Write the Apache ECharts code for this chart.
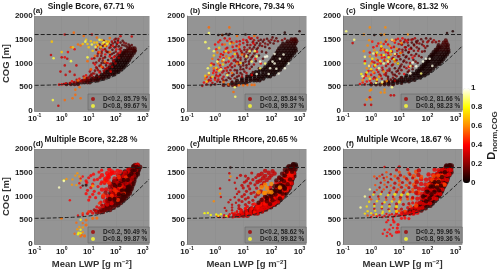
<!DOCTYPE html>
<html><head><meta charset="utf-8">
<style>html,body{margin:0;padding:0;background:#fff}#c{width:500px;height:273px}</style>
<script src="https://cdn.jsdelivr.net/npm/echarts@6/dist/echarts.min.js"></script>
</head><body><div id="c"></div>
<script>
// Dense core of each cloud. Row: [COG, D, [LWP values]]
const coreA = [[565,.1,[1.5,2.2,3,4]],[600,.1,[4,5.5,7,9,11]],[640,.08,[8,11,14,18,22]],[680,.06,[13,18,23,29,36]],[720,.05,[20,27,35,44,55]],[770,.05,[30,38,50,62,78,90]],[820,.04,[40,50,65,85,105,125]],[870,.04,[50,65,85,105,130,160]],[920,.03,[60,80,100,130,165,200]],[970,.03,[75,95,120,150,190,235]],[1020,.03,[85,110,135,175,220,270]],[1070,.04,[100,125,160,205,255,310]],[1120,.05,[120,145,180,235,290,350]],[1170,.06,[140,170,205,265,330,400]],[1220,.06,[170,200,235,300,380,470]],[1270,.08,[210,250,290,380,480,520]],[1320,.1,[290,340,420,500]]];
const coreB = [[550,.12,[2,3,4.2,5.5]],[590,.06,[4,5.5,7.5,10,13]],[640,.05,[6,9,13,18,24,30,38]],[680,.04,[9,13,18,25,33,42,52]],[725,.03,[14,18,25,35,46,60,75,90]],[770,.03,[20,26,36,50,65,85,105,125]],[820,.03,[28,35,50,68,88,112,140,165]],[870,.03,[40,50,62,82,106,135,170,205]],[920,.03,[60,75,98,128,165,205,245]],[970,.03,[75,90,115,150,195,245,290]],[1020,.03,[85,105,135,175,225,285,340]],[1070,.03,[100,125,160,205,265,335,400]],[1120,.03,[115,140,185,240,310,390,470]],[1170,.03,[130,160,215,280,360,455,550]],[1220,.03,[150,190,250,325,420,530,650]],[1270,.04,[170,220,290,380,490,620,750]],[1320,.04,[190,260,340,440,570,720]],[1370,.05,[225,300,395,510,650]],[1420,.06,[260,350,460,590,720]],[1470,.08,[380,500,650,780]],[1510,.1,[520,640,720]]];
const coreC = [[560,.08,[1,1.5,2.1,3,4.2,6]],[590,.06,[3,4.3,6,8.5,12]],[620,.05,[4,6,8.5,12,16,22]],[655,.04,[7,10,14,20,27,35]],[700,.03,[12,17,24,33,44,56]],[745,.03,[18,26,35,47,62,80]],[790,.03,[30,38,46,62,82,105]],[840,.03,[42,50,58,78,102,130]],[890,.03,[52,64,72,96,125,160]],[940,.03,[62,74,86,115,150,195]],[990,.03,[74,88,102,135,180,230,270]],[1040,.03,[88,105,120,160,210,270,320]],[1090,.03,[102,120,140,185,245,310,370]],[1140,.03,[120,140,165,220,285,360,430]],[1190,.04,[140,160,190,255,330,420,500]],[1240,.04,[165,195,225,300,385,490,570]],[1290,.06,[195,225,265,350,450,560]],[1340,.07,[235,270,315,420,530]],[1390,.08,[250,340,450,540]],[1440,.1,[380,480]],[1490,.12,[450]]];
const coreD = [[680,.2,[20,26,33]],[720,.15,[30,38,48,60]],[770,.15,[40,48,62,82]],[820,.12,[45,55,75,100,120]],[870,.12,[52,72,95,125,150]],[920,.1,[50,72,98,130,165,190]],[970,.1,[62,86,115,150,195,230]],[1020,.1,[70,98,130,170,220,270]],[1070,.1,[65,90,125,165,215,270,320]],[1120,.1,[85,120,160,210,265,340]],[1170,.1,[85,120,160,210,275,340,380]],[1220,.1,[75,110,150,200,260,330,400]],[1270,.1,[80,110,150,200,260,340,400,440]],[1320,.1,[90,130,175,230,300,380,470]],[1370,.1,[120,170,230,300,390,480]],[1420,.1,[140,190,250,330,430,540]],[1470,.08,[190,260,340,440,560,640]],[1520,.1,[220,300,400,520,650]],[1570,.08,[320,430,560,700]],[1620,.12,[460,600,780]],[1660,.12,[520,640]]];
const coreE = [[600,.25,[5,7,10,14]],[650,.2,[9,13,18,25,32]],[690,.18,[13,18,25,34,46]],[730,.15,[18,26,36,48,64]],[780,.12,[30,42,58,75,95]],[830,.1,[45,62,82,105,130]],[880,.1,[58,78,105,135,170]],[930,.08,[72,98,130,165,205]],[980,.08,[86,115,150,190,240]],[1030,.08,[105,140,185,235,290]],[1080,.08,[125,165,215,275,340]],[1130,.08,[145,195,250,320,390]],[1180,.08,[160,215,280,360,440]],[1230,.08,[185,250,320,400,470]],[1280,.1,[205,270,350,440,520]],[1330,.08,[250,330,420,520]],[1380,.1,[260,340,440,560]],[1430,.1,[340,440,560,640]],[1480,.1,[380,500,630]],[1530,.1,[370,490,630]],[1580,.12,[470,600,700]],[1630,.1,[500,620,740]],[1670,.05,[600,720]]];
const coreF = [[660,.25,[15,22,30]],[710,.15,[24,32,44,60]],[760,.12,[36,50,66,85]],[810,.1,[46,60,78,100,125]],[860,.08,[56,74,95,125,150]],[910,.08,[68,88,115,145,180]],[960,.07,[80,105,135,170,210]],[1010,.06,[78,102,132,170,215,255]],[1060,.06,[85,110,145,185,230,285]],[1110,.06,[95,125,165,210,265,320]],[1160,.06,[95,130,170,220,275,340]],[1210,.06,[115,150,200,255,320,380]],[1260,.08,[120,165,215,280,350,420]],[1310,.08,[145,195,255,330,410,470]],[1360,.08,[175,230,300,390,500]],[1410,.1,[195,260,340,440,530]],[1460,.1,[220,290,380,490,600]],[1510,.1,[280,370,480,600,700]],[1560,.1,[340,450,580,680]],[1610,.15,[450,570,700]],[1650,.1,[480,620,720]]];
// Loose marks laid on top. Group: [D, [LWP,COG, LWP,COG, ...]]
const looseA = [
[.18,[14,790,17,850,20,900,25,950,19,1020,26,1100,22,1210,29,1160,33,1060,37,1010,41,880,55,930,67,1000,80,1070,92,1150,72,1200,55,1240,40,1300,33,1370,52,1450,63,1340,78,1420,105,1360,140,1300,120,1210,100,1250,160,1330,200,1440,240,1420,24,720,12,770,9,700,6,650,45,1010,30,1250,16,1110,19,1290,25,1400,36,1480]],
[.15,[1.2,570,2,575,2.8,600,4,610,5.5,640,7,645,8,690,10,660,11,730,15,710]],
[.12,[20,760,26,830,18,700,34,905,30,1010,44,960,52,1075,40,1130,62,1180,48,1240,75,1290,90,1340,66,1390,110,1410,130,1360,150,1440,175,1390,210,1380,120,1480,95,1450,84,1220,70,1110,58,870,38,800,14,680,9,640,100,1520,180,1480,250,1360,300,1400,330,1370,390,1390]],
[.25,[2,590,3,610,5,630,3.6,655,7,670,10,700,6.5,725,13,745,16,790,11,830,22,860,19,920,28,960,15,1010,24,1060,34,1110,21,1160,30,1210,44,1260,27,1320,58,1330,38,1400,72,1460,54,1430,90,1500,125,1520,155,1270,110,1180,85,1050,60,990,47,900,36,845,74,930,130,1120,98,1000]],
[.38,[1,560,1.4,580,.8,555,2.4,625,4.5,680,8,750,12,875,17,980,13,1100,23,1240,33,1290,41,1190,50,1010,33,920,25,810,60,1150,78,1370,105,1300,140,1230,65,830,120,1440,85,1130,44,1370,20,1360,1.3,1130,1.7,1240,3,1300]],
[.3,[.4,1180,1,1130,13,1610,150,1575,390,1570,1.3,1610,.75,110,1.6,1100,3.5,960,1.3,960,.9,830,2,830,1.4,760,3,760]],
[.55,[2.8,1650,6.5,1580,20,1545,60,1535,2.2,1340,4,1400,5,1380,9,1050,12,880,30,930,40,1040,17,1160,25,1240,60,1240,7,700,4,640,3.2,450,3.2,340,2.5,270,5,270,4.6,500,1.3,230]],
[.7,[8,1500,30,1495,45,1470,12,1470,20,1440,55,1460,9,1410,16,1440,33,1420,47,1400,6,1410,22,1385,40,1370,10,1340,28,1340,1,1240,2.6,1340,14,1270,.43,1460]],
[.85,[13,1400,18,1350,36,1450,50,1420,25,1500,7.5,1460,.5,1110,2.2,1050,9,1130,.47,230]]];
const looseB = [
[.18,[2,640,3.5,680,5,690,7,740,4,740,9,770,6,800,11,830,8,880,13,910,10,960,16,990,12,1040,18,1080,14,1130,22,1160,17,1220,27,1250,21,1300,33,1330,26,1390,40,1420,35,1480,55,1500,80,1480,60,1420,47,1370,75,1400,100,1500,130,1480,170,1470,240,1490,300,1520,3,800,5,860,4,920,7,980,5.5,1040,8,1080,6.5,1130,11,1150,9,1220,13,1240,11,1290,17,1330,14,1390,22,1450,18,1520]],
[.3,[1.3,660,2,720,2.6,850,1.6,900,3.4,960,2.4,1020,4.6,1060,3.5,1120,6,1210,4.6,1280,7.5,1300,5.8,1370,10,1430,7.5,1470,13,1490,20,1530,1.8,810,1.1,750,.7,700,.9,980,1.3,1080,1.9,1180,2.7,1330,3.8,1450,2.2,1530]],
[.42,[.55,620,1,660,.5,720,.85,800,1.2,880,.75,1000,1.5,1140,2.1,1240,1.1,1300,1.8,1400,1.3,1450,2.7,1480]],
[.12,[1.5,610,2.5,650,4,620,3,700,6,720,4.5,770,8,800,6,850,10,880,8,930,13,960,10,1010,16,1040,12,1090,20,1130,15,1180,25,1210,18,1270,30,1300,24,1340,38,1380,30,1430,50,1460,42,1500,70,1520,110,1550,1,560,.7,545,13,740,22,820,20,930,28,1050,36,1170,46,1250,60,1350,90,1440,150,1530,36,900,50,1100,65,1230,85,1320,120,1420]],
[.25,[.35,530,.5,560,.8,590,1.2,620,.6,650,1,700,1.8,680,1.5,760,2.6,780,2,840,3.5,860,2.8,920,5,950,3.8,1000,6.5,1030,5,1080,8,1120,6.5,1170,11,1200,8.5,1260,14,1290,11,1340,18,1390,14,1450,24,1490,32,1540,9,720,13,800,17,890,24,980]],
[.38,[.4,600,.7,640,1.3,730,1.1,810,2.3,900,1.5,960,3,1040,2,1110,4.2,1150,3,1230,5.5,1280,4.2,1350,7.5,1400,5.8,1460,10,1500,16,1550,23,1420,31,1250,27,1100,42,1000,20,760,.9,850,1.6,1200,2.4,1310,1,1400,1.5,1490,3.3,1520]],
[.55,[.45,680,.6,770,.9,900,1.3,1000,.8,1100,1.8,1050,2.5,1150,1.2,1230,3.6,1250,2.2,1400,4.5,1430,7,1350,9,1190,6,1000,4,800,2,610,3,560,25,550,20,550,10,540,14,545,7,540,1.8,1600,6,1580,25,1580,3.2,1760,.6,1760,4.5,400]],
[.72,[.5,620,.8,720,.45,740,1.4,850,.7,960,1.1,910,1.9,980,3.2,1110,.9,1170,2.4,1260,1.4,1330,3.4,1420,5,1200,8,1010]],
[.88,[.6,800,.55,900,1.2,1040,2,1080,.9,1260,.6,1320,.45,1450,.6,1640,1.6,880,2.7,760,5,500,5.2,300,17,1260,26,1260,13,1150,30,1150,20,1040,40,900,60,1000]],
[.98,[130,1000,200,1100,70,1150,110,1040,90,900,150,890,300,900,30,780,80,780,180,790,130,1200,270,1190,60,1140,40,1040,400,1000]],
[.05,[300,1650,1000,1680,2.5,1620,3.3,1620,12,1610,1.3,1600,1.8,1600,3,1600]]];
const looseC = [
[.18,[4,680,6,700,8,730,6,770,10,790,8,830,12,860,10,900,15,930,12,980,18,1020,15,1060,22,1100,18,1150,27,1180,22,1240,33,1270,27,1310,42,1340,34,1380,52,1420,42,1430,70,1460,110,1480,150,1450,200,1450,260,1470,85,1330,65,1250,50,1160,38,1040,30,940,22,850,17,1340,13,1290,11,1220,9,1150,7,1060,5.5,960,4.5,850,3.4,750,12,1400,15,1450,21,1500,30,1510]],
[.3,[1.5,680,2.2,740,3,770,1.8,820,3.8,850,2.5,910,4,990,3,1060,5.5,1100,4.2,1170,7,1180,5.5,1250,8.5,1270,6.5,1350,9.5,1410,7.5,1500,11,1480,2,1040,1.5,1210,2.3,1330,3.3,1460,1.3,1020,.65,780,1,860]],
[.42,[.5,600,.9,640,1.2,680,.65,740,1.3,800,.9,950,1.7,990,1.1,1040,2.4,1120,1.5,1170,3.3,1240,2.2,1280,1.6,1370,2.8,1410,1.1,1460]],
[.12,[3,620,5,660,4,720,7,760,5.5,810,9,850,7,900,11,940,9,1000,14,1040,11,1090,17,1130,14,1180,21,1230,17,1280,26,1330,21,1380,33,1400,28,1440,45,1480,40,1460,60,1510,90,1530,130,1520,12,700,20,820,25,960,32,1080,40,1200,50,1310,65,1400,30,880,45,1010,62,1130,80,1260,100,1370]],
[.25,[.6,560,1,590,1.6,630,2.4,680,1.3,710,2,770,3.4,800,2.6,860,4.5,890,3.4,950,6,980,4.6,1040,8,1070,6,1120,10,1150,8,1200,13,1240,10,1300,16,1340,12.5,1400,20,1440,16,1500,27,1500,36,1530,7,640,18,900,24,1010,35,1160,47,1270,75,1370,100,1450,170,1490]],
[.38,[.4,570,.7,620,.55,700,1,760,.8,840,1.6,870,1.3,940,2.2,1000,1.7,1070,3,1130,2.3,1180,4,1220,3,1290,5.2,1330,4,1400,7,1440,5.5,1490,9,1520,13,1530,18,1480,23,1300,30,1120,22,930,15,780,.9,1230,.6,1050,1.2,1340,1.8,1420]],
[.6,[.5,650,.8,730,1.2,820,.7,900,1,1000,1.5,1100,.9,1150,2,1180,1.3,1280,2.6,1300,3.5,1070,5,1190,4.6,1370,2.2,1440,3.6,1500,8,1310,11,1220,7,1040,2.8,830,1.9,720,3.6,630,2.4,570,.55,1260,.75,1380,.85,1490,6.5,1480,12,1430,3,1610,2.2,1610,.9,1760,3.2,1760,.55,1610,20,1610,1,450,3,450,.9,430,2.2,390,3,390,.7,240,1,240]],
[.78,[.45,780,.7,810,1,880,1.4,960,.6,1000,2.1,1050,1.1,1100,2.8,1180,1.6,1230,3.6,1280,2.3,1360,5,1260,4.2,1130,6.5,1090,9,1000,.9,680,1.6,660]],
[.9,[.5,730,.85,950,1.9,900,2.8,1000,.6,1140,1.2,1210,4,1040,5.5,1500,.25,1500,.13,1680,7,1200,1.5,590,2.5,610,5.5,500,25,950,60,790]],
[.98,[40,940,90,1100,150,950,25,790,120,1100,70,1040,30,1020]],
[.05,[800,1680,500,1640,1.3,1600,2.3,1600]],[.3,[5,330,6.5,330,.6,130,1,130,.9,290,.22,1430]]];
const looseD = [
[.36,[18,700,25,760,14,650,9,640,6,610,4,600,12,690,33,800,20,780,48,830,70,860,40,900,58,960,28,880,90,980,115,1040,75,1050,150,1100,50,1010,34,990,100,1130,64,1130,200,1190,130,1170,44,1150,85,1220,260,1270,170,1240,110,1290,60,1270,38,1290,340,1330,230,1340,140,1370,90,1380,55,1400,400,1420,290,1420,190,1430,120,1460,70,1490,480,1530,330,1500,220,1500,150,1520,540,1610,420,1590,290,1570,640,1670,500,1650]],
[.24,[30,820,16,720,50,900,80,940,130,1030,42,1080,95,1090,180,1160,60,1200,130,1260,220,1290,300,1380,170,1340,90,1320,480,1440,250,1460,380,1560,580,1560,330,1250,400,1360]],
[.46,[70,1010,110,1090,35,1020,150,1200,55,1300,40,1330,90,1140,200,1080,25,860,120,930,10,680,6,650,240,1400,130,1410]],
[.08,[130,1050,190,1040,170,1130,240,1130,300,1130,280,1200,320,1210,90,1240,140,1240,200,1350,280,1350,320,1440,420,1550,500,1550,60,950,90,950,380,1480,450,1640,600,1620,8,1240,6,1230]],
[.4,[30,1555,58,1570,118,1540,24,1515,48,1490,72,1525,15,1470,31,1450,62,1470,88,1500,6,1420,12,1440,26,1400,51,1425,5,1380,10,1395,21,1360,41,1375,8,1330,16,1350,30,1310,46,1345,4.5,1280,8.5,1295,14,1260,28,1270,5,1190,12,1185,22,1210,9,1130,16,1110,31,1145,8,1060,14,1045,24,1070,11,990,18,975,2,920,10,925]],
[.62,[2.4,1250,3.5,1240,14,1225,5,1335,3.2,1440,4.5,1420,1.5,1370,2.5,1360,.95,540,3.8,1490,4.5,360,6,350,3.8,310,6,250]],
[.8,[1.2,1340,5,510,5,300,4.2,240,5,225,4,205]],
[.95,[1.2,1325,.8,1190]],
[.55,[3.5,450,6,440,8,400,5,160,7,170,1,540,14,540,20,545,8,505,3,215,5.5,190]]];
const looseE = [
[.36,[1.4,565,2,560,3,575,4.2,560,1.2,590,2.1,605,3,590,4.5,610,6.5,585,9,600,3.3,625,4.5,640,6.5,620,9.5,635,13,615,18,625,4,655,6,665,9,650,13,670,18,660,25,645,32,655,6,690,9,705,13,685,18,700,25,690,34,710,46,695,8,730,12,745,18,725,26,740,36,720,48,745,64,735,14,790,20,770,30,795,42,775,58,800,75,780,95,790,22,835,32,820,45,845,62,825,82,840,105,825,130,835,42,885,58,870,78,895,105,880,135,870,170,890,62,985,86,970,115,990,150,975,190,995,240,980,90,1185,160,1170,215,1195,360,1180,440,1190,150,1290,205,1270,270,1295,350,1275,440,1290,520,1280,190,1385,260,1370,340,1395,440,1375,560,1390,280,1480,380,1495,500,1470,630,1490]],
[.42,[5,660,8,675,14,645,25,665,12,755,20,740,32,770,25,845,40,830,60,855,50,945,80,930,120,955,250,1295,400,1280,300,1360,380,1350,470,1370,350,1445,450,1430,520,1450,380,1505,450,1490,270,1110,350,1130,200,1030,250,1015,160,1025]],
[.8,[.42,650,.55,655,1.1,620,1.6,625,.7,610,1.3,595,2.5,585]],
[.12,[60,1000,80,1060,100,1130,125,1220,150,1340,190,1400,240,1480,300,1560,380,1610,45,930,35,870,70,900,90,840,110,920,200,960,250,1060,300,1160,380,1260,460,1360,540,1520,620,1610,140,1040,170,1120,210,1250,280,1320]],
[.3,[2.5,700,4,710,2.2,760,4,770,7,750,4,825,7,810,12,830,3,880,5.5,870,9,895,16,875,3.5,930,7,925,12,945,22,920,1.6,990,5,985,9,1000,15,975,27,995,6,1055,11,1040,19,1065,33,1045,7,1100,13,1110,24,1090,42,1105,1.5,1170,5.5,1165,10,1180,17,1160,30,1175,9,1235,15,1220,26,1245,45,1225,5,1290,11,1300,18,1280,32,1305,55,1285,3.2,1345,13,1330,22,1355,40,1335,68,1350,6,1390,15,1380,28,1400,50,1385,85,1395,8,1445,12,1430,35,1450,60,1435,100,1445,3.2,1490,20,1495,45,1480,80,1500,130,1485,60,1540,110,1535]],
[.08,[130,1130,200,1100,160,1220,240,1230,300,1180,230,1360,300,1440,350,1520,70,970,100,1000,500,1610,600,1680,420,1640,3.5,1610]],
[.6,[3.5,1420,1.5,1060,.9,900,100,1090,60,1080,200,1190,35,1090,55,1075,80,1100,45,1195,70,1180,60,1250,100,1265]]];
const looseF = [
[.36,[1,570,1.6,580,2.5,565,4,575,6,560,2,605,3,590,4.5,610,7,595,10,605,15,595,3.5,635,5.5,625,8,640,12,620,17,635,24,625,32,640,8,675,12,660,17,680,24,665,33,675,44,660,20,765,28,755,38,770,50,750,66,765,30,865,42,855,56,870,74,850,95,865,125,855,30,965,44,955,60,970,80,950,105,965,135,950,170,970,210,955,45,1065,62,1055,85,1070,110,1050,145,1065,185,1055,230,1070,285,1055,50,1165,70,1155,95,1170,130,1150,170,1165,220,1155,275,1170,340,1150,60,1265,85,1255,120,1270,165,1250,215,1265,280,1250,350,1270,420,1255,60,1365,90,1355,125,1370,175,1350,230,1365,300,1355,390,1370,500,1350,110,1465,160,1455,220,1470,290,1450,380,1465,490,1455,600,1470,180,1565,250,1555,340,1570,450,1550,580,1565,680,1555]],
[.5,[30,1100,48,1090,110,1245,220,1235,400,1250,150,1345,250,1335,170,1430,240,1440,330,1425,25,800,40,810,10,700,16,695,20,950,28,945,3.5,1510,10,1515,22,1500,40,1520,1.3,1420,2,1425,3.6,1410,7,1430,15,1415,33,1425,60,1410,3,1340,5.5,1350,10,1330,20,1345,40,1335,1.4,1240,3,1250,5,1230,10,1245,18,1235,34,1250,1.6,1140,2.8,1150,5,1130,9,1145,16,1135,30,1150,1,940,1.9,950,3.5,930,6.5,945,11,935,.75,600,1.2,610]],
[.3,[3,1620,10,1625,8,1560,20,1570,50,1550,2.5,1460,5,1470,11,1450,24,1465,48,1455,1.6,1380,2.8,1390,5,1370,9,1385,18,1375,30,1390,2.2,1290,4,1300,7,1280,13,1295,24,1285,42,1300,2,1190,3.6,1200,6.5,1180,12,1195,22,1185,38,1200,1.3,1090,2.4,1100,4.5,1080,8,1095,14,1085,24,1100,40,1080,.9,990,1.8,1000,3.4,980,6,995,11,985,19,1000,30,980,1.3,840,2.5,850,4.5,830,8,845,14,835,22,850,1.3,740,2.4,750,4.2,730,7.5,745,12,735]],
[.75,[1.2,1040,2.2,1050,4,1030,7,1045,12,1035,20,1050,.85,890,1.6,900,3,880,5.5,895,10,885,.7,790,1.3,800,2.4,780,4.5,795,8,785,.75,690,1.4,700,2.6,680,4.5,695,8,685,.6,640,1,650,1.5,630,2.5,645]],
[.92,[.42,770,.6,1000,.9,1150]],
[.08,[140,1050,180,1100,220,1190,160,1210,250,1310,120,960,90,900,330,1410,420,1510,480,1640,620,1660,100,1100,130,1210,70,1000,180,1300,260,1130,300,1230]],
[.4,[12,540,16,545,22,535,4,500,6,505,3.5,460,6.5,465,5,400,9,410,6,340,8.5,335,3,300,4.5,305,8,250,9.5,255,3.8,245,4.8,210,2.6,215,3.6,170,5.5,175]]];

const coreRows = [coreA, coreB, coreC, coreD, coreE, coreF];
const looseRows = [looseA, looseB, looseC, looseD, looseE, looseF];
const panelTitles = ['Single Bcore, 67.71 %','Single RHcore, 79.34 %','Single Wcore, 81.32 %','Multiple Bcore, 32.28 %','Multiple RHcore, 20.65 %','Multiple Wcore, 18.67 %'];
const panelTags = ['(a)','(b)','(c)','(d)','(e)','(f)'];
const legendLow = ['D<0.2, 85.79 %','D<0.2, 85.84 %','D<0.2, 81.66 %','D<0.2, 50.49 %','D<0.2, 58.62 %','D<0.2, 59.96 %'];
const legendHigh = ['D<0.8, 99.67 %','D<0.8, 99.37 %','D<0.8, 98.23 %','D<0.8, 99.87 %','D<0.8, 99.82 %','D<0.8, 99.36 %'];
const topLine = [[0.1,1610],[1700,1610]];
const boundaryCurve = [[0.1,540],[0.3,545],[1,555],[3,565],[10,590],[30,640],[100,760],[300,960],[1000,1230],[1700,1365]];
const colorStops = ['#000000','#8a0000','#ff0000','#ff8a00','#ffff00','#ffffff'];

const lefts=[30,187,343], tops=[16,149], W=119, H=95;
const txt='#1a1a1a', F='"Liberation Sans",Arial,sans-serif';
const grid=[],xAxis=[],yAxis=[],series=[],title=[],legend=[];
const supRich={b:{fontFamily:F,fontWeight:'bold',fontSize:8,color:txt},s:{fontFamily:F,fontWeight:'bold',fontSize:5,color:txt,verticalAlign:'top',lineHeight:12,padding:[0,0,5,0]}};
function decade(v){const e=Math.round(Math.log10(v));return Math.abs(Math.log10(v)-e)<1e-6?'{b|10}{s|'+e+'}':'';}
coreRows.forEach((rows,i)=>{
  const col=i%3,row=i<3?0:1,l=lefts[col],t=tops[row];
  grid.push({left:l,top:t,width:W,height:H,backgroundColor:'#949494',show:true,borderWidth:0});
  xAxis.push({type:'log',logBase:10,min:0.1,max:1700,gridIndex:i,
    axisLine:{lineStyle:{color:'#6e6e6e',width:.6}},axisTick:{show:false},
    splitLine:{show:true,lineStyle:{color:'#8c8c8c',width:.5}},
    axisLabel:{margin:2,formatter:decade,rich:supRich,showMaxLabel:false},
    name:row?'Mean LWP [g m{s|\u22122}]':'',nameLocation:'middle',nameGap:15,
    nameTextStyle:{fontFamily:F,fontSize:9.5,fontWeight:'bold',color:'#333',rich:{s:{fontFamily:F,fontSize:6,fontWeight:'bold',color:'#333',verticalAlign:'top',lineHeight:11,padding:[0,0,5,0]}}}});
  yAxis.push({type:'value',min:0,max:2000,interval:500,gridIndex:i,
    axisLine:{show:true,lineStyle:{color:'#6e6e6e',width:.6}},axisTick:{show:false},
    splitLine:{show:true,lineStyle:{color:'#8c8c8c',width:.5}},
    axisLabel:{margin:2,fontFamily:F,fontWeight:'bold',fontSize:8,color:txt,formatter:v=>String(v)},
    name:col===0?'COG [m]':'',nameLocation:'middle',nameGap:15,
    nameTextStyle:{fontFamily:F,fontSize:9.5,fontWeight:'bold',color:'#333'}});
  const core=[];
  rows.forEach(r=>r[2].forEach(x=>core.push([x,r[0],r[1]])));
  series.push({type:'scatter',xAxisIndex:i,yAxisIndex:i,data:core,z:2,symbol:'circle',symbolSize:row?5:4,encode:{x:0,y:1},silent:true});
  const loose=[];
  looseRows[i].forEach(g=>{for(let k=0;k<g[1].length;k+=2)loose.push([g[1][k],g[1][k+1],g[0]]);});
  series.push({type:'scatter',xAxisIndex:i,yAxisIndex:i,data:loose,z:2,symbol:'circle',
    symbolSize:row?(v=>v[0]>30?4.4:(v[0]>6?3.2:2.4)):2.6,encode:{x:0,y:1},silent:true});
  [topLine,boundaryCurve].forEach((d,k)=>series.push({type:'line',xAxisIndex:i,yAxisIndex:i,data:d,z:3,smooth:k===1,showSymbol:false,silent:true,
    lineStyle:{color:'#222',width:1,type:[4,2]}}));
  series.push({type:'scatter',name:legendLow[i],xAxisIndex:i,yAxisIndex:i,data:[],itemStyle:{color:'#a00000'}});
  series.push({type:'scatter',name:legendHigh[i],xAxisIndex:i,yAxisIndex:i,data:[],itemStyle:{color:'#ffff33'}});
  legend.push({data:[legendLow[i],legendHigh[i]],orient:'vertical',left:l+W-61,top:t+78,width:61,height:17,
    padding:[2,2,1,3],itemGap:1,itemWidth:4,itemHeight:4,icon:'circle',selectedMode:false,
    backgroundColor:'#8a8a8a',borderColor:'#666',borderWidth:.6,
    textStyle:{fontFamily:F,fontSize:6.4,fontWeight:'bold',color:'#222',padding:[0,0,0,3]}});
  title.push({text:panelTitles[i],left:l+W/2+1.5,top:t-13,padding:0,textAlign:'center',
    textStyle:{fontFamily:F,fontSize:8.4,fontWeight:'bold',color:txt}});
  title.push({text:panelTags[i],left:l+3,top:t-9,padding:0,textStyle:{fontFamily:F,fontSize:8,fontWeight:'bold',color:txt}});
});
// colour bar axis
grid.push({left:463,top:88,width:7,height:95,show:false});
xAxis.push({type:'value',gridIndex:6,show:false});
yAxis.push({type:'value',gridIndex:6,position:'right',min:0,max:1,interval:.2,
  axisLine:{show:false},axisTick:{show:false},splitLine:{show:false},
  axisLabel:{margin:2,fontFamily:F,fontWeight:'bold',fontSize:8,color:txt,formatter:v=>String(+v.toFixed(1))},
  name:'D{s|norm,COG}',nameLocation:'middle',nameRotate:90,nameGap:16,
  nameTextStyle:{fontFamily:F,fontSize:11,fontWeight:'bold',color:txt,rich:{s:{fontFamily:F,fontSize:8,fontWeight:'bold',color:'#333',verticalAlign:'bottom',lineHeight:14,padding:[5,0,0,0]}}}});
const scatterIdx=series.map((s,i)=>s.type==='scatter'&&s.data.length?i:-1).filter(i=>i>=0);
const chart=echarts.init(document.getElementById('c'),null,{renderer:'canvas'});
chart.setOption({animation:false,backgroundColor:'#fff',grid,xAxis,yAxis,series,title,legend,
  visualMap:{type:'continuous',min:0,max:1,dimension:2,seriesIndex:scatterIdx,inRange:{color:colorStops},
    left:463,top:88,itemWidth:7,itemHeight:95,padding:0,text:null,calculable:false,showLabel:false,realtime:false,hoverLink:false,borderWidth:0,textStyle:{fontSize:0}}});
</script></body></html>
